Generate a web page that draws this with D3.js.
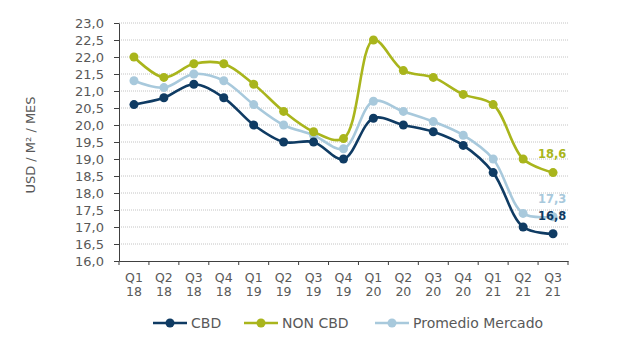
<!DOCTYPE html>
<html><head><meta charset="utf-8">
<script src="https://cdn.jsdelivr.net/npm/d3@7"></script>
<style>body{margin:0;background:#fff;} svg{display:block;font-family:"DejaVu Sans",sans-serif;}</style>
</head><body><svg id="c" width="640" height="338"></svg>
<script>
const quarters = ["Q1","Q2","Q3","Q4","Q1","Q2","Q3","Q4","Q1","Q2","Q3","Q4","Q1","Q2","Q3"];
const years = ["18","18","18","18","19","19","19","19","20","20","20","20","21","21","21"];
const cbd = [20.6,20.8,21.2,20.8,20.0,19.5,19.5,19.0,20.2,20.0,19.8,19.4,18.6,17.0,16.8];
const nonCbd = [22.0,21.4,21.8,21.8,21.2,20.4,19.8,19.6,22.5,21.6,21.4,20.9,20.6,19.0,18.6];
const promedio = [21.3,21.1,21.5,21.3,20.6,20.0,19.7,19.3,20.7,20.4,20.1,19.7,19.0,17.4,17.3];
const yTicks = [16,16.5,17,17.5,18,18.5,19,19.5,20,20.5,21,21.5,22,22.5,23];
const seriesNames = ["CBD","NON CBD","Promedio Mercado"];
const endLabels = ["16,8","18,6","17,3"];

const colors = ["#0f3b63","#a9b51c","#a8c9dc"];
const svg = d3.select("#c");
const pLeft = 119, pRight = 568, pTop = 23, pBottom = 261;
const idx = d3.range(quarters.length);
const x = d3.scaleBand().domain(idx).range([pLeft, pRight]);
const y = d3.scaleLinear().domain([16,23]).range([pBottom, pTop]);
const fmt = v => d3.format(".1f")(v).replace(".", ",");
const cx = i => x(i) + x.bandwidth()/2;

// grid
svg.append("g").selectAll("line").data(yTicks.slice(1)).join("line")
  .attr("x1", pLeft).attr("x2", pRight).attr("y1", d=>y(d)).attr("y2", d=>y(d))
  .attr("stroke", "#c4c4c4").attr("stroke-width", 1).attr("stroke-dasharray", "1,1");

// y axis
const ya = svg.append("g").attr("transform", `translate(${pLeft},0)`)
  .call(d3.axisLeft(y).tickValues(yTicks).tickFormat(fmt).tickSize(5).tickSizeOuter(0));
ya.select(".domain").attr("stroke", "#404040");
ya.selectAll(".tick line").attr("stroke", "#404040");
ya.selectAll("text").attr("font-size", 13).attr("fill", "#595959").attr("x", -15)
  .attr("font-family", "DejaVu Sans, sans-serif");

// x axis
const xa = svg.append("g").attr("transform", `translate(0,${pBottom})`)
  .call(d3.axisBottom(x).tickSize(0).tickFormat(""));
xa.select(".domain").attr("stroke", "#404040");
svg.append("g").selectAll("line").data(d3.range(quarters.length+1)).join("line")
  .attr("x1", d=>pLeft + d*x.step()).attr("x2", d=>pLeft + d*x.step())
  .attr("y1", pBottom).attr("y2", pBottom+4).attr("stroke", "#404040");
const xl = svg.append("g").selectAll("text").data(idx).join("text")
  .attr("text-anchor","middle").attr("font-size", 12.5).attr("fill", "#595959");
xl.append("tspan").attr("x", cx).attr("y", 282).text(d=>quarters[d]);
xl.append("tspan").attr("x", cx).attr("y", 296).text(d=>years[d]);

// y title
svg.append("text").attr("transform", "translate(35,145) rotate(-90)")
  .attr("text-anchor","middle").attr("font-size", 13).attr("fill", "#595959")
  .text("USD / M² / MES");

const series = [cbd, nonCbd, promedio];
const line = d3.line().x((d,i)=>cx(i)).y(d=>y(d)).curve(d3.curveCatmullRom.alpha(0.5));
const order = [2,0,1];
order.forEach(s => {
  const g = svg.append("g");
  g.append("path").datum(series[s]).attr("d", line).attr("fill","none")
    .attr("stroke", colors[s]).attr("stroke-width", 2.6);
  g.selectAll("circle").data(series[s]).join("circle")
    .attr("cx",(d,i)=>cx(i)).attr("cy", d=>y(d)).attr("r", 4.5)
    .attr("fill", colors[s]);
});

// end labels
const labBase = [220, 158, 203];
[1,2,0].forEach(s => {
  svg.append("text").attr("x", 538).attr("y", labBase[s]).attr("font-size", 11.5)
    .attr("font-weight","bold").attr("fill", colors[s]).text(endLabels[s]);
});

// legend
const legX = [153, 244, 375];
const lg = svg.append("g");
seriesNames.forEach((n,s) => {
  lg.append("line").attr("x1", legX[s]).attr("x2", legX[s]+34).attr("y1", 323).attr("y2", 323)
    .attr("stroke", colors[s]).attr("stroke-width", 2.6);
  lg.append("circle").attr("cx", legX[s]+17).attr("cy", 323).attr("r", 4.5).attr("fill", colors[s]);
  lg.append("text").attr("x", legX[s]+38).attr("y", 328).attr("font-size", 14)
    .attr("fill", "#595959").text(n);
});
</script></body></html>
